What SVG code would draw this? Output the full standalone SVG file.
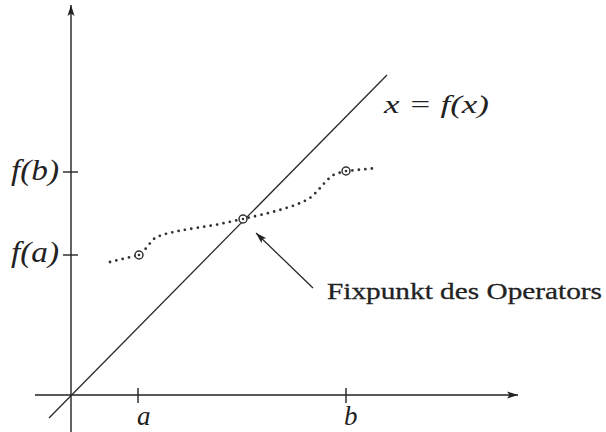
<svg xmlns="http://www.w3.org/2000/svg" width="606" height="432" viewBox="0 0 606 432">
<style>
.ax{stroke:#222;stroke-width:1.4;fill:none}
.ln{stroke:#2a2a2a;stroke-width:1.3;fill:none}
.dot{stroke:#333;stroke-width:2.8;fill:none;stroke-linecap:round;stroke-dasharray:0 6.5}
.pt{stroke:#333;stroke-width:1.5;fill:#fff}
.m{font-family:"Liberation Serif","DejaVu Serif",serif;font-style:italic;fill:#222}
.t{font-family:"Liberation Serif","DejaVu Serif",serif;fill:#222;stroke:#222;stroke-width:0.3}
</style>
<defs>
<marker id="ah" markerWidth="12" markerHeight="8" refX="11" refY="4" orient="auto" markerUnits="userSpaceOnUse">
<path d="M0,0.5 L11,4 L0,7.5 L2.5,4 Z" fill="#222"/>
</marker>
</defs>
<rect width="606" height="432" fill="#fff"/>
<g id="axes">
<line class="ax" x1="71" y1="432" x2="71" y2="5" marker-end="url(#ah)"/>
<line class="ax" x1="35" y1="395" x2="518" y2="395" marker-end="url(#ah)"/>
<line class="ax" x1="63" y1="172" x2="78" y2="172"/>
<line class="ax" x1="63" y1="255" x2="78" y2="255"/>
<line class="ax" x1="138" y1="388" x2="138" y2="403"/>
<line class="ax" x1="346" y1="388" x2="346" y2="403"/>
</g>
<g id="diagonal">
<line class="ln" x1="49" y1="418" x2="387" y2="75"/>
</g>
<g id="curve">
<path class="dot" d="M110,262 L139,255 C146,250 150,242 155,238 C166,232 190,229 215,225 L243,219 C265,214 296,207 310,198 C320,190 325,180 335,174 L346,171 L377,168"/>
<circle class="pt" cx="139" cy="255" r="4"/>
<circle cx="139" cy="255" r="1.3" fill="#333"/>
<circle class="pt" cx="243" cy="219" r="4"/>
<circle cx="243" cy="219" r="1.3" fill="#333"/>
<circle class="pt" cx="346" cy="171" r="4"/>
<circle cx="346" cy="171" r="1.3" fill="#333"/>
</g>
<g id="connectors">
<line class="ln" x1="313" y1="288" x2="256" y2="233" marker-end="url(#ah)"/>
</g>
<g id="labels">
<text class="m" x="11" y="180" font-size="29" textLength="48" lengthAdjust="spacingAndGlyphs">f(b)</text>
<text class="m" x="11" y="262" font-size="29" textLength="48" lengthAdjust="spacingAndGlyphs">f(a)</text>
<text class="m" x="137" y="425" font-size="27">a</text>
<text class="m" x="344" y="425" font-size="27">b</text>
<text class="m" x="384" y="113" font-size="26" textLength="105" lengthAdjust="spacingAndGlyphs">x = f(x)</text>
<text class="t" x="327" y="299" font-size="24" textLength="275" lengthAdjust="spacingAndGlyphs">Fixpunkt des Operators</text>
</g>
</svg>
